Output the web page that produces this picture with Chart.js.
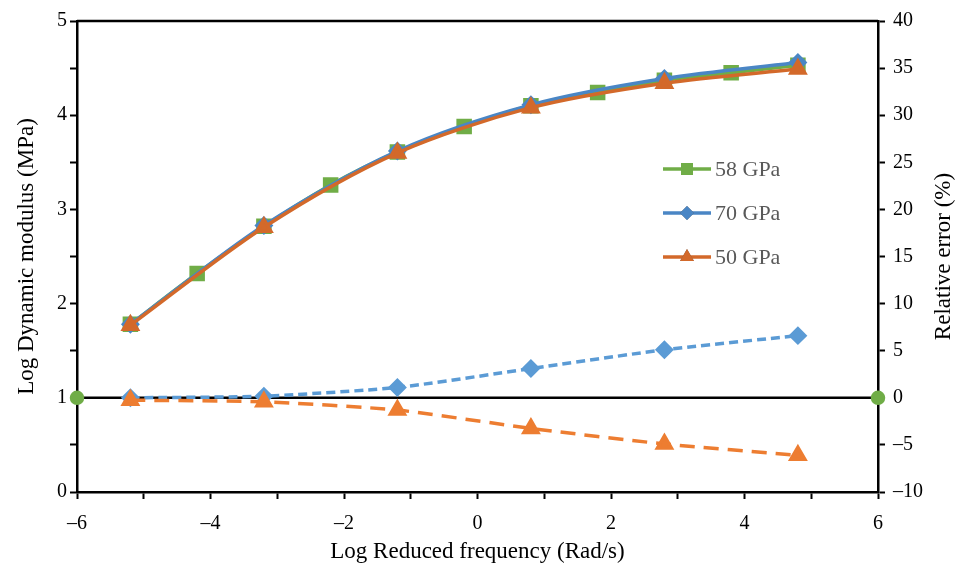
<!DOCTYPE html>
<html>
<head>
<meta charset="utf-8">
<script src="https://cdn.jsdelivr.net/npm/chart.js@4.4.0/dist/chart.umd.min.js"></script>
<style>
  body { margin: 0; background: #fff; }
  #wrap { width: 961px; height: 581px; position: relative; }
</style>
</head>
<body>
<div id="wrap"><canvas id="chart"></canvas></div>
<script>
// log reduced frequency of each measurement
let freqAll = [-5.2, -4.2, -3.2, -2.2, -1.2, -0.2, 0.8, 1.8, 2.8, 3.8, 4.8];
let freqEven = [-5.2, -3.2, -1.2, 0.8, 2.8, 4.8];

// log dynamic modulus (MPa)
let mod58 = [1.78, 2.32, 2.82, 3.26, 3.61, 3.88, 4.10, 4.24, 4.37, 4.45, 4.53];
let mod70 = [1.78, 2.83, 3.62, 4.11, 4.39, 4.56];
let mod50 = [1.77, 2.81, 3.60, 4.08, 4.34, 4.49];

// relative error (%)
let err70 = [0, 0.17, 1.1, 3.1, 5.1, 6.6];
let err50 = [-0.25, -0.43, -1.3, -3.25, -4.9, -6.1];

// zero reference line
let zeroX = [-6, 6];
let zeroY = [0, 0];

let legendLabels = ["58 GPa", "70 GPa", "50 GPa"];
let rightTitle = "Relative error (%)";

const pts = (xs, ys) => xs.map((x, i) => ({ x: x, y: ys[i] }));
const minus = v => (v < 0 ? "\u2013" + Math.abs(v) : String(v));

const FONT = "'Liberation Serif', 'DejaVu Serif', serif";

let frame = {
  id: "frame",
  afterDatasetsDraw(chart) {
    const { ctx, chartArea: a } = chart;
    ctx.save();
    ctx.strokeStyle = "#000";
    ctx.lineWidth = 2.5;
    ctx.beginPath();
    ctx.moveTo(a.left, a.top);
    ctx.lineTo(a.right, a.top);
    ctx.stroke();
    ctx.restore();
  },
  afterDraw(chart) {
    // right axis title reads bottom to top, like the left one
    const { ctx, chartArea: a } = chart;
    ctx.save();
    ctx.translate(944, (a.top + a.bottom) / 2);
    ctx.rotate(-Math.PI / 2);
    ctx.fillStyle = "#000";
    ctx.font = "23px " + FONT;
    ctx.textAlign = "center";
    ctx.textBaseline = "middle";
    ctx.fillText(rightTitle, 0, 0);
    ctx.restore();
  },
};

// legend drawn inside the plot, right of centre
let innerLegend = {
  id: "innerLegend",
  afterDraw(chart) {
    const { ctx, chartArea: a } = chart;
    ctx.save();
    for (let i = 0; i < 3; i++) {
      const ds = chart.data.datasets[i];
      const x0 = a.left + 586;
      const y = a.top + 148 + i * 44;
      ctx.strokeStyle = ds.borderColor;
      ctx.lineWidth = 3.5;
      ctx.beginPath();
      ctx.moveTo(x0, y);
      ctx.lineTo(x0 + 48, y);
      ctx.stroke();
      Chart.helpers.drawPoint(ctx, {
        pointStyle: ds.pointStyle,
        radius: ds.pointRadius,
        borderWidth: 0,
        rotation: 0,
      }, x0 + 24, y);
      ctx.fillStyle = ds.pointBackgroundColor;
      ctx.fill();
      ctx.fillStyle = "#595959";
      ctx.font = "22px " + FONT;
      ctx.textBaseline = "middle";
      ctx.fillText(legendLabels[i], x0 + 52, y + 1);
    }
    ctx.restore();
  },
};

let datasets = [
  {
    label: "58 GPa",
    data: pts(freqAll, mod58),
    yAxisID: "y",
    borderColor: "#70AD47",
    backgroundColor: "#70AD47",
    pointBackgroundColor: "#70AD47",
    pointBorderColor: "#70AD47",
    pointStyle: "rect",
    pointRadius: 8.5,
    borderWidth: 3.5,
    tension: 0.3,
    order: 3,
  },
  {
    label: "70 GPa",
    data: pts(freqEven, mod70),
    yAxisID: "y",
    borderColor: "#4A86C5",
    backgroundColor: "#4A86C5",
    pointBackgroundColor: "#4A86C5",
    pointBorderColor: "#4A86C5",
    pointStyle: "rectRot",
    pointRadius: 7,
    borderWidth: 3.5,
    tension: 0.3,
    order: 2,
  },
  {
    label: "50 GPa",
    data: pts(freqEven, mod50),
    yAxisID: "y",
    borderColor: "#D3692A",
    backgroundColor: "#D3692A",
    pointBackgroundColor: "#D3692A",
    pointBorderColor: "#D3692A",
    pointStyle: "triangle",
    pointRadius: 8,
    borderWidth: 3.5,
    tension: 0.3,
    order: 1,
  },
  {
    label: "zero",
    data: pts(zeroX, zeroY),
    yAxisID: "y2",
    borderColor: "#000",
    pointBackgroundColor: "#70AD47",
    pointBorderColor: "#70AD47",
    pointStyle: "circle",
    pointRadius: 6,
    borderWidth: 2.5,
    clip: false,
    order: 6,
  },
  {
    label: "err 70",
    data: pts(freqEven, err70),
    yAxisID: "y2",
    borderColor: "#5B9BD5",
    pointBackgroundColor: "#5B9BD5",
    pointBorderColor: "#5B9BD5",
    pointStyle: "rectRot",
    pointRadius: 7,
    borderWidth: 3.5,
    borderDash: [9, 5],
    tension: 0.2,
    order: 5,
  },
  {
    label: "err 50",
    data: pts(freqEven, err50),
    yAxisID: "y2",
    borderColor: "#ED7D31",
    pointBackgroundColor: "#ED7D31",
    pointBorderColor: "#ED7D31",
    pointStyle: "triangle",
    pointRadius: 8,
    borderWidth: 3.5,
    borderDash: [15, 9],
    tension: 0.2,
    order: 4,
  },
];

let tickGrid = {
  drawOnChartArea: false,
  drawTicks: true,
  tickLength: 7,
  tickWidth: 2,
  tickColor: "#000",
};

let config = {
  animation: false,
  responsive: true,
  maintainAspectRatio: false,
  layout: { padding: { top: 21, left: 0, right: 0, bottom: 0 } },
  plugins: {
    legend: { display: false },
    tooltip: { enabled: false },
  },
  scales: {
    x: {
      type: "linear",
      position: "bottom",
      min: -6,
      max: 6,
      afterFit: s => { s.height = 89; },
      border: { color: "#000", width: 2.5 },
      grid: tickGrid,
      ticks: {
        stepSize: 1,
        color: "#000",
        padding: 13,
        maxRotation: 0,
        autoSkip: false,
        font: { family: FONT, size: 20 },
        callback: v => (v % 2 === 0 ? minus(v) : ""),
      },
      title: {
        display: true,
        text: "Log Reduced frequency (Rad/s)",
        color: "#000",
        padding: { top: 0, bottom: 15 },
        font: { family: FONT, size: 23 },
      },
    },
    y: {
      position: "left",
      min: 0,
      max: 5,
      afterFit: s => { s.width = 77; },
      border: { color: "#000", width: 2.5 },
      grid: tickGrid,
      ticks: {
        stepSize: 0.5,
        color: "#000",
        padding: 3,
        autoSkip: false,
        font: { family: FONT, size: 20 },
        callback: v => (Number.isInteger(v) ? v : ""),
      },
      title: {
        display: true,
        text: "Log Dynamic modulus (MPa)",
        color: "#000",
        padding: { top: 13, bottom: 0 },
        font: { family: FONT, size: 23 },
      },
    },
    y2: {
      position: "right",
      min: -10,
      max: 40,
      afterFit: s => { s.width = 83; },
      border: { color: "#000", width: 2.5 },
      grid: tickGrid,
      ticks: {
        stepSize: 5,
        color: "#000",
        padding: 8,
        autoSkip: false,
        font: { family: FONT, size: 20 },
        callback: v => minus(v),
      },
      title: { display: false },
    },
  },
};

let ctx = document.getElementById("chart").getContext("2d");
let lineChart = new Chart(ctx, {
  type: "line",
  data: { datasets: datasets },
  options: config,
  plugins: [frame, innerLegend],
});
</script>
</body>
</html>
